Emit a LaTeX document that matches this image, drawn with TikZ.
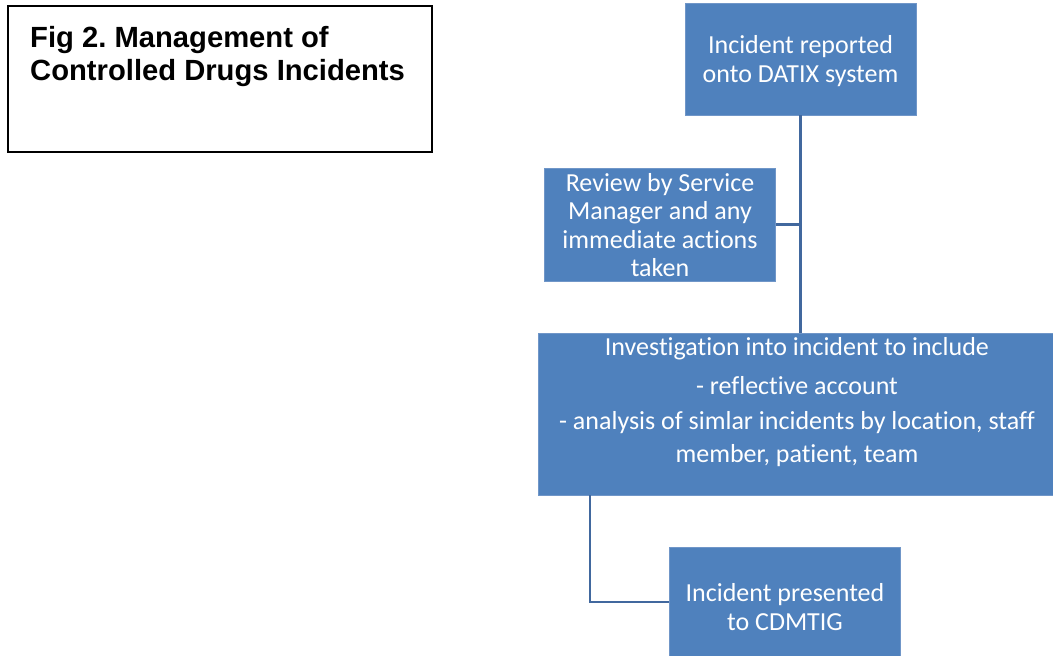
\documentclass[tikz,border=0pt]{standalone}
\usepackage{fontspec}
\setmainfont{Carlito}[Ligatures=NoCommon]
\newfontfamily\arialfont{Liberation Sans}
\definecolor{boxblue}{HTML}{4F81BD}
\definecolor{boxedge}{HTML}{7096C8}
\definecolor{linkblue}{HTML}{41689E}
\tikzset{
  box/.style={fill=boxblue, draw=boxedge, line width=0.8pt, inner sep=0pt},
  boxtext/.style={text=white, align=center, inner sep=0pt, font=\fontsize{26}{28.5}\selectfont},
  link/.style={draw=linkblue, line width=2.6pt},
  titlebox/.style={draw=black, line width=1.5pt, fill=white, inner sep=0pt},
  titletext/.style={font=\arialfont\bfseries\fontsize{29.2}{33}\selectfont, align=left, inner sep=0pt, anchor=north west}
}
\begin{document}
\frenchspacing
\begin{tikzpicture}[x=1pt,y=-1pt]
\useasboundingbox (0,0) rectangle (1053,656);
% title
\node[titlebox, minimum width=424pt, minimum height=146pt] (title) at (220,79) {};
\node[titletext] (titlet) at (30,26) {Fig 2. Management of\\Controlled Drugs Incidents};
% boxes
\node[box, minimum width=231pt, minimum height=112pt] (b1) at (800.5,59) {};
\node[boxtext] (b1t) at (800.5,61) {Incident reported\\onto DATIX system};
\node[box, minimum width=231pt, minimum height=113pt] (b2) at (660,224.5) {};
\node[boxtext] (b2t) at (660,225) {Review by Service\\Manager and any\\immediate actions\\taken};
\node[box, minimum width=515pt, minimum height=162pt] (b3) at (795.5,414) {};
\node[boxtext, font=\fontsize{26}{33}\selectfont] (b3t) at (797,402) {Investigation into incident to include\\[6pt]- reflective account\\[2pt]- analysis of simlar incidents by location, staff\\member, patient, team};
\node[box, minimum width=231pt, minimum height=110pt] (b4) at (785,602) {};
\node[boxtext] (b4t) at (785,607) {Incident presented\\to CDMTIG};
% connectors
\coordinate (c3) at (590,495);
\draw[link] (b1.south) -- (b1.south |- b3.north);
\draw[link] (b2.east) -- (b2.east -| b1.south);
\draw[link] (c3) |- (b4.west);
\end{tikzpicture}
\end{document}
